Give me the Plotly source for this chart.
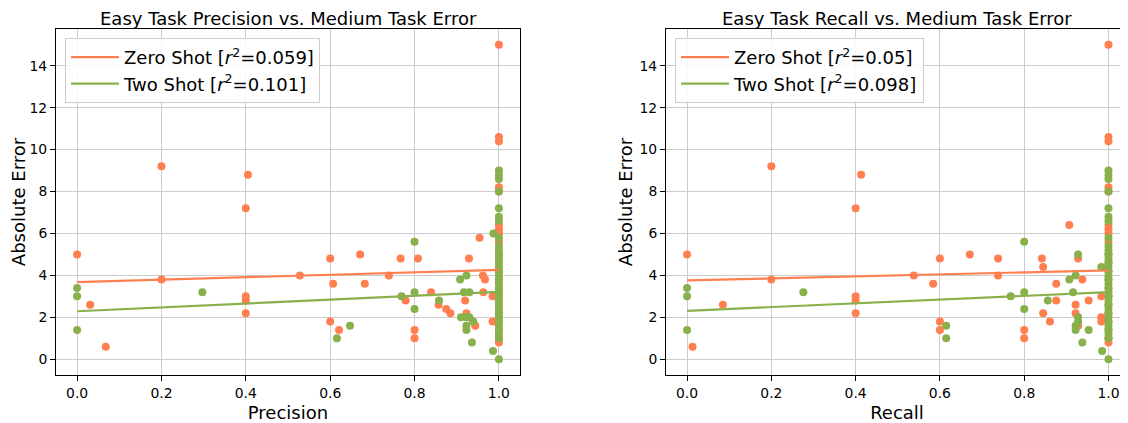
import plotly.graph_objects as go

# ---------------- data ----------------
# Left panel: Easy task precision vs medium task absolute error
zero_prec = [0.0, 0.2, 0.405, 0.4, 0.031, 0.068, 0.2, 0.528, 0.4, 0.4, 0.4, 0.6, 0.6,
             0.671, 0.607, 0.682, 0.739, 0.767, 0.621, 0.808, 0.779, 0.8, 0.8, 0.839,
             0.857, 0.875, 0.885, 0.929, 0.954, 0.920, 0.923, 0.962, 0.967, 0.963,
             0.944, 0.985, 0.985,
             1.0, 1.0, 1.0, 1.0, 1.0, 1.0, 1.0, 1.0, 1.0, 1.0, 1.0, 1.0, 1.0, 1.0,
             1.0, 1.0, 1.0, 1.0, 1.0, 1.0, 1.0]
zero_prec_err = [5.0, 9.2, 8.8, 7.2, 2.6, 0.6, 3.8, 4.0, 3.0, 2.8, 2.2, 4.8, 1.8,
                 5.0, 3.6, 3.6, 4.0, 4.8, 1.4, 4.8, 2.8, 1.4, 1.0, 3.2,
                 2.6, 2.4, 2.2, 4.8, 5.8, 2.8, 2.2, 4.0, 3.8, 3.2,
                 1.6, 3.0, 1.8,
                 15.0, 10.6, 10.4, 8.2, 8.0, 6.4, 6.2, 6.0, 5.6, 5.0, 4.6, 4.2, 3.8, 3.4,
                 3.0, 2.6, 2.2, 1.8, 1.4, 1.0, 0.8]

two_prec = [0.0, 0.0, 0.0, 0.297, 0.616, 0.647, 0.8, 0.8, 0.8, 0.769, 0.858, 0.908,
            0.923, 0.917, 0.930, 0.910, 0.923, 0.930, 0.939, 0.923, 0.923, 0.936,
            0.987, 0.986,
            1.0, 1.0, 1.0, 1.0, 1.0, 1.0, 1.0, 1.0, 1.0, 1.0, 1.0, 1.0, 1.0, 1.0, 1.0,
            1.0, 1.0, 1.0, 1.0, 1.0, 1.0, 1.0, 1.0, 1.0, 1.0, 1.0, 1.0, 1.0, 1.0, 1.0,
            1.0, 1.0]
two_prec_err = [3.4, 3.0, 1.4, 3.2, 1.0, 1.6, 5.6, 3.2, 2.4, 3.0, 2.8, 3.8,
                4.0, 3.2, 3.2, 2.0, 2.0, 2.0, 1.8, 1.6, 1.4, 0.8,
                6.0, 0.4,
                9.0, 8.8, 8.6, 8.0, 7.2, 6.8, 6.6, 5.8, 5.4, 5.2, 5.0, 4.8, 4.6, 4.4, 4.2,
                4.0, 3.8, 3.6, 3.4, 3.2, 3.0, 2.8, 2.6, 2.4, 2.2, 2.0, 1.8, 1.6, 1.4, 1.2,
                1.0, 0.0]

# Right panel: Easy task recall vs medium task absolute error
zero_rec = [0.0, 0.2, 0.413, 0.4, 0.085, 0.013, 0.2, 0.4, 0.4, 0.4, 0.538, 0.6, 0.671,
            0.584, 0.738, 0.738, 0.6, 0.6, 0.8, 0.8, 0.842, 0.845, 0.876, 0.876, 0.845,
            0.861, 0.907, 0.928, 0.938, 0.922, 0.922, 0.928, 0.953, 0.983, 0.983, 0.983,
            1.0, 1.0, 1.0, 1.0, 1.0, 1.0, 1.0, 1.0, 1.0, 1.0, 1.0, 1.0, 1.0, 1.0,
            1.0, 1.0, 1.0, 1.0, 1.0, 1.0, 1.0]
zero_rec_err = [5.0, 9.2, 8.8, 7.2, 2.6, 0.6, 3.8, 3.0, 2.8, 2.2, 4.0, 4.8, 5.0,
                3.6, 4.8, 4.0, 1.8, 1.4, 1.4, 1.0, 4.8, 4.4, 3.6, 2.8, 2.2,
                1.8, 6.4, 4.8, 3.8, 2.6, 2.2, 1.6, 2.8, 3.0, 2.0, 1.8,
                15.0, 10.6, 10.4, 8.2, 8.0, 6.4, 6.2, 6.0, 5.6, 5.0, 4.6, 4.2, 3.8, 3.4,
                3.0, 2.6, 2.2, 1.8, 1.4, 1.0, 0.8]

two_rec = [0.0, 0.0, 0.0, 0.276, 0.615, 0.615, 0.8, 0.8, 0.8, 0.768, 0.856, 0.907,
           0.922, 0.928, 0.916, 0.928, 0.928, 0.922, 0.922, 0.938, 0.953, 0.983, 0.985,
           1.0, 1.0, 1.0, 1.0, 1.0, 1.0, 1.0, 1.0, 1.0, 1.0, 1.0, 1.0, 1.0, 1.0, 1.0,
           1.0, 1.0, 1.0, 1.0, 1.0, 1.0, 1.0, 1.0, 1.0, 1.0, 1.0, 1.0, 1.0, 1.0, 1.0,
           1.0, 1.0]
two_rec_err = [3.4, 3.0, 1.4, 3.2, 1.6, 1.0, 5.6, 3.2, 2.4, 3.0, 2.8, 3.8,
               4.0, 5.0, 3.2, 2.0, 1.8, 1.6, 1.4, 0.8, 1.4, 4.4, 0.4,
               9.0, 8.8, 8.6, 8.0, 7.2, 6.8, 6.6, 5.8, 5.4, 5.2, 5.0, 4.8, 4.6, 4.4, 4.2,
               4.0, 3.8, 3.6, 3.4, 3.2, 3.0, 2.8, 2.6, 2.4, 2.2, 2.0, 1.8, 1.6, 1.4, 1.2,
               1.0, 0.0]

# Linear fit coefficients (intercept, slope) as drawn in the reference, and r^2 labels
fit_zero_prec = (3.68, 0.58)
fit_two_prec = (2.29, 0.92)
fit_zero_rec = (3.76, 0.48)
fit_two_rec = (2.31, 0.89)
r2_zero_prec, r2_two_prec = "0.059", "0.101"
r2_zero_rec, r2_two_rec = "0.05", "0.098"

titles = ["Easy Task Precision vs. Medium Task Error", "Easy Task Recall vs. Medium Task Error"]
x_titles = ["Precision", "Recall"]
y_title = "Absolute Error"
x_ticks = [0.0, 0.2, 0.4, 0.6, 0.8, 1.0]
y_ticks = [0, 2, 4, 6, 8, 10, 12, 14]

ZERO_COLOR = "#FF7F50"
TWO_COLOR = "#88B04B"
FONT = "DejaVu Sans"

fig = go.Figure()


def fit_line(xs, coef):
    lo, hi = min(xs), max(xs)
    return [lo, hi], [coef[0] + coef[1] * lo, coef[0] + coef[1] * hi]


panels = [
    ("x", "y", "legend", zero_prec, zero_prec_err, two_prec, two_prec_err,
     fit_zero_prec, fit_two_prec, r2_zero_prec, r2_two_prec),
    ("x2", "y2", "legend2", zero_rec, zero_rec_err, two_rec, two_rec_err,
     fit_zero_rec, fit_two_rec, r2_zero_rec, r2_two_rec),
]

for xa, ya, lg, zx, zy, tx, ty, fz, ft, rz, rt in panels:
    fig.add_trace(go.Scatter(x=zx, y=zy, mode="markers", xaxis=xa, yaxis=ya,
                             marker=dict(color=ZERO_COLOR, size=8, line=dict(width=0)),
                             showlegend=False, hoverinfo="skip"))
    fig.add_trace(go.Scatter(x=tx, y=ty, mode="markers", xaxis=xa, yaxis=ya,
                             marker=dict(color=TWO_COLOR, size=8, line=dict(width=0)),
                             showlegend=False, hoverinfo="skip"))
    lx, ly = fit_line(zx, fz)
    fig.add_trace(go.Scatter(x=lx, y=ly, mode="lines", xaxis=xa, yaxis=ya, legend=lg,
                             line=dict(color=ZERO_COLOR, width=2.2),
                             name=f"Zero Shot [<i>r</i><sup>2</sup>={rz}]"))
    lx, ly = fit_line(tx, ft)
    fig.add_trace(go.Scatter(x=lx, y=ly, mode="lines", xaxis=xa, yaxis=ya, legend=lg,
                             line=dict(color=TWO_COLOR, width=2.2),
                             name=f"Two Shot [<i>r</i><sup>2</sup>={rt}]"))

# The page body has an 8px margin, so the figure is offset by 8px in the window.
OFF = 8
W, H = 1128 - OFF, 423 - OFF
LEFT_FRAME, RIGHT_FRAME_START = 56, 666
ML, MR, MT, MB = LEFT_FRAME - OFF, 0, 29 - OFF, 48
PW = W - ML - MR
PH = H - MT - MB

left_dom = [0.0, 464 / PW]
right_dom = [(RIGHT_FRAME_START - LEFT_FRAME) / PW, 1.0]

axis_common = dict(
    showgrid=True, gridcolor="#cccccc", gridwidth=1.1,
    showline=True, linecolor="#000000", linewidth=1, mirror=True,
    ticks="outside", ticklen=5, tickwidth=1, tickcolor="#000000",
    tickfont=dict(family=FONT, size=13.9, color="#000000"),
    zeroline=False, automargin=False,
)

xcommon = dict(axis_common, tickvals=x_ticks, tickformat=".1f")
ycommon = dict(axis_common, tickvals=y_ticks, range=[-0.75, 15.75])

legend_common = dict(
    xanchor="left", yanchor="top", itemwidth=48,
    bgcolor="rgba(255,255,255,0.85)", bordercolor="#cccccc", borderwidth=1,
    font=dict(family=FONT, size=18, color="#000000"),
)

fig.update_layout(
    width=W, height=H,
    margin=dict(l=ML, r=MR, t=MT, b=MB, pad=0, autoexpand=False),
    plot_bgcolor="white", paper_bgcolor="white",
    font=dict(family=FONT, color="#000000"),
    xaxis=dict(xcommon, domain=left_dom, range=[-0.05, 1.05], anchor="y",
               title=dict(text=x_titles[0], font=dict(size=18), standoff=6)),
    yaxis=dict(ycommon, domain=[0, 1], anchor="x",
               title=dict(text=y_title, font=dict(size=18), standoff=2)),
    xaxis2=dict(xcommon, domain=right_dom, range=[-0.05, -0.05 + 462 / 421.4], anchor="y2",
                title=dict(text=x_titles[1], font=dict(size=18), standoff=6)),
    yaxis2=dict(ycommon, domain=[0, 1], anchor="x2",
                title=dict(text=y_title, font=dict(size=18), standoff=2)),
    legend=dict(legend_common, x=(65 - LEFT_FRAME) / PW, y=1 - (38 - OFF - MT) / PH),
    legend2=dict(legend_common, x=(675 - LEFT_FRAME) / PW, y=1 - (38 - OFF - MT) / PH),
)

for dom, t in zip([left_dom, right_dom], titles):
    fig.add_annotation(text=t, x=(dom[0] + dom[1]) / 2, y=1, xref="paper", yref="paper",
                       xanchor="center", yanchor="bottom", yshift=-2, showarrow=False,
                       font=dict(family=FONT, size=18, color="#000000"))

fig.write_html("out.html")
